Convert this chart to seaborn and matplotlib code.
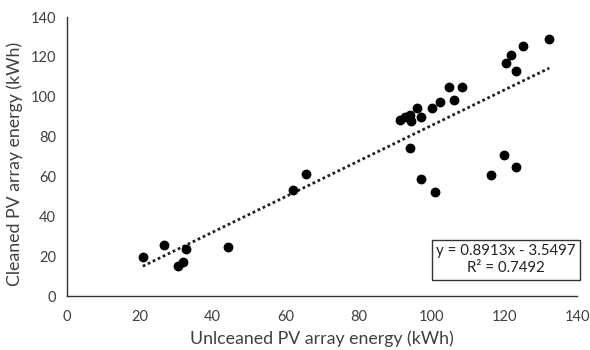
import matplotlib
matplotlib.use("Agg")
import matplotlib.pyplot as plt
import seaborn as sns
import numpy as np
import pandas as pd

# ── Data ─────────────────────────────────────────────────────────────────────
uncleaned = [20.8, 26.7, 30.6, 31.8, 32.7, 44.2, 62.1, 65.5,
             91.4, 92.8, 94.2, 94.3, 96.2, 97.3, 100.2, 102.4, 104.9, 106.1, 108.3,
             120.6, 121.8, 123.3, 125.3, 132.4,
             94.2, 97.3, 100.9, 116.4, 120.0, 123.3]
cleaned = [19.4, 25.4, 15.0, 17.2, 23.7, 24.6, 53.5, 61.2,
           88.3, 90.0, 90.8, 88.0, 94.2, 89.7, 94.2, 97.6, 105.0, 98.3, 105.0,
           117.0, 121.1, 113.2, 125.4, 128.8,
           74.1, 58.9, 52.4, 60.6, 70.6, 64.6]
slope, intercept = 0.8913, -3.5497
r2 = 0.7492

df = pd.DataFrame({"uncleaned": uncleaned, "cleaned": cleaned})
trend = pd.DataFrame({"x": [df["uncleaned"].min(), df["uncleaned"].max()]})
trend["y"] = slope * trend["x"] + intercept

sns.set_style("white")
plt.rcParams["font.family"] = ["Lato", "DejaVu Sans"]
TXT = "#404040"

fig = plt.figure(figsize=(5.9, 3.5), dpi=100)
ax = fig.add_axes([0.1136, 0.154, 0.8644, 0.797])

sns.scatterplot(data=df, x="uncleaned", y="cleaned", ax=ax, color="black",
                s=50, edgecolor="black", linewidth=0, zorder=3)
sns.lineplot(data=trend, x="x", y="y", ax=ax, color="#222222",
             linestyle=(0, (1, 1)), linewidth=2, zorder=2)

ax.set_xlim(0, 140)
ax.set_ylim(0, 140)
ax.set_xticks(range(0, 141, 20))
ax.set_yticks(range(0, 141, 20))
ax.set_xlabel("Unlceaned PV array energy (kWh)", fontsize=12.8, color=TXT, labelpad=5)
ax.set_ylabel("Cleaned PV array energy (kWh)", fontsize=12.8, color=TXT, labelpad=5)
ax.yaxis.set_label_coords(-0.086, 0.475)
ax.tick_params(axis="both", direction="out", length=4, width=1, colors="#333333",
               labelsize=10.5, labelcolor=TXT)
ax.tick_params(axis="x", pad=6)
ax.tick_params(axis="y", pad=4)

for side in ["top", "right"]:
    ax.spines[side].set_visible(False)
for side in ["left", "bottom"]:
    ax.spines[side].set_color("#333333")
    ax.spines[side].set_linewidth(1)

ax.text(0.861, 0.13, f"y = {slope}x - {abs(intercept)}\nR² = {r2}",
        transform=ax.transAxes, ha="center", va="center", fontsize=10.8,
        color="#222222", linespacing=1.3,
        bbox=dict(boxstyle="square,pad=0.3", facecolor="white",
                  edgecolor="#333333", linewidth=1))

fig.savefig("out.png", dpi=100)
plt.close()
